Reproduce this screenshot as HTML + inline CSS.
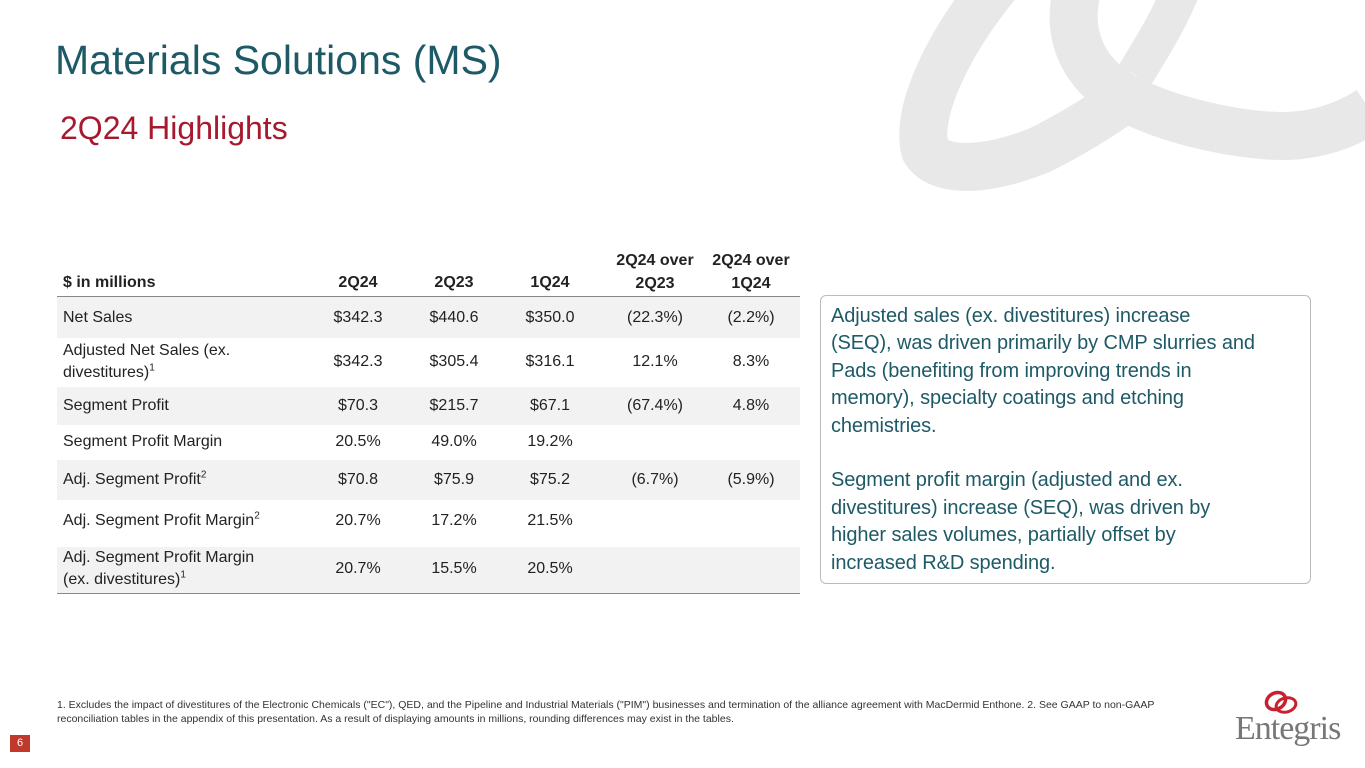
<!DOCTYPE html>
<html><head><meta charset="utf-8"><style>
body{margin:0;width:1365px;height:768px;overflow:hidden;background:#fff;font-family:"Liberation Sans",sans-serif;position:relative}
.a{position:absolute}
.cell{position:absolute;font-size:16px;color:#222;text-align:center;line-height:20px}
.lab{position:absolute;font-size:16px;color:#222;line-height:22px;left:63px}
.band{position:absolute;left:57px;width:743px;background:#f2f2f2}
sup{font-size:10px;line-height:0}
</style></head><body>
<svg class="a" style="left:0;top:0" width="1365" height="768">
<path d="M1000,-20 C950,40 915,110 925,150 C940,175 990,170 1040,150 C1080,130 1110,110 1130,95" fill="none" stroke="#e8e8e8" stroke-width="48"/>
<path d="M1080,-20 C1060,40 1090,80 1130,100 C1180,125 1260,140 1300,135 C1330,132 1355,120 1370,110" fill="none" stroke="#e8e8e8" stroke-width="48"/>
<path d="M1185,-20 C1170,20 1150,50 1135,75" fill="none" stroke="#e8e8e8" stroke-width="38"/>
</svg>
<div class="a" style="left:55px;top:37px;font-size:41px;color:#1e5a66">Materials Solutions (MS)</div>
<div class="a" style="left:60px;top:110px;font-size:32px;color:#a6192e">2Q24 Highlights</div>

<div>
<div class="band" style="top:297px;height:41px"></div>
<div class="band" style="top:387px;height:38px"></div>
<div class="band" style="top:460px;height:40px"></div>
<div class="band" style="top:547px;height:46px"></div>
<div class="a" style="left:57px;top:296px;width:743px;height:1px;background:#888"></div>
<div class="a" style="left:57px;top:593px;width:743px;height:1px;background:#888"></div>
<div class="lab" style="top:272px;font-weight:bold">$ in millions</div>
<div class="cell" style="left:318px;width:80px;top:273px;font-weight:bold">2Q24</div>
<div class="cell" style="left:414px;width:80px;top:273px;font-weight:bold">2Q23</div>
<div class="cell" style="left:510px;width:80px;top:273px;font-weight:bold">1Q24</div>
<div class="cell" style="left:605px;width:100px;top:249px;font-weight:bold;line-height:23px">2Q24 over<br>2Q23</div>
<div class="cell" style="left:701px;width:100px;top:249px;font-weight:bold;line-height:23px">2Q24 over<br>1Q24</div>
<div id="rows"></div>
</div>

<div class="a" style="left:820px;top:295px;width:491px;height:289px;border:1px solid #bbb;border-radius:6px;box-sizing:border-box;padding:7px 10px;font-size:20px;line-height:27.4px;color:#1e5a66"><div style="width:425px;letter-spacing:-0.1px">Adjusted sales (ex. divestitures) increase (SEQ), was driven primarily by CMP slurries and Pads (benefiting from improving trends in memory), specialty coatings and etching chemistries.<br><br>Segment profit margin (adjusted and ex. divestitures) increase (SEQ), was driven by higher sales volumes, partially offset by increased R&amp;D spending.</div></div>

<div class="a" style="left:57px;top:698px;width:1150px;font-size:10.5px;line-height:14px;color:#333">1. Excludes the impact of divestitures of the Electronic Chemicals ("EC"), QED, and the Pipeline and Industrial Materials ("PIM") businesses and termination of the alliance agreement with MacDermid Enthone. 2. See GAAP to non-GAAP reconciliation tables in the appendix of this presentation. As a result of displaying amounts in millions, rounding differences may exist in the tables.</div>
<div class="a" style="left:10px;top:735px;width:20px;height:17px;background:#c0392b;color:#fff;font-size:11px;text-align:center;line-height:17px">6</div>
<div class="a" style="left:1230px;top:688px;width:135px;height:70px">
<svg class="a" style="left:32px;top:0" width="40" height="30"><ellipse cx="14" cy="13" rx="10" ry="8" fill="none" stroke="#c8202f" stroke-width="3.5" transform="rotate(-30 14 13)"/><ellipse cx="24" cy="17" rx="10" ry="7" fill="none" stroke="#c8202f" stroke-width="3" transform="rotate(-15 24 17)"/></svg>
<div class="a" style="left:5px;top:22px;font-family:'Liberation Serif',serif;font-size:34px;color:#777;letter-spacing:-1px">Entegris</div>
</div>
<script>
const labels=["Net Sales","Adjusted Net Sales (ex.<br>divestitures)<sup>1</sup>","Segment Profit","Segment Profit Margin","Adj. Segment Profit<sup>2</sup>","Adj. Segment Profit Margin<sup>2</sup>","Adj. Segment Profit Margin<br>(ex. divestitures)<sup>1</sup>"];
const col2Q24=["$342.3","$342.3","$70.3","20.5%","$70.8","20.7%","20.7%"];
const col2Q23=["$440.6","$305.4","$215.7","49.0%","$75.9","17.2%","15.5%"];
const col1Q24=["$350.0","$316.1","$67.1","19.2%","$75.2","21.5%","20.5%"];
const colYoY=["(22.3%)","12.1%","(67.4%)","","(6.7%)","",""];
const colQoQ=["(2.2%)","8.3%","4.8%","","(5.9%)","",""];
const centers=[318,362,406,442,480,521,569];
const cont=document.getElementById('rows');
labels.forEach((l,i)=>{
 const y=centers[i];
 const two=l.indexOf('<br>')>=0;
 const d=document.createElement('div');d.className='lab';d.style.top=(two?y-22:y-11)+'px';d.innerHTML=l;
 
 
 cont.appendChild(d);
 [[col2Q24,318,80],[col2Q23,414,80],[col1Q24,510,80],[colYoY,605,100],[colQoQ,701,100]].forEach(([arr,x,w])=>{
  const c=document.createElement('div');c.className='cell';c.style.left=x+'px';c.style.width=w+'px';c.style.top=(y-10)+'px';c.textContent=arr[i];
  
  
  cont.appendChild(c);
 });
});
</script>
</body></html>
